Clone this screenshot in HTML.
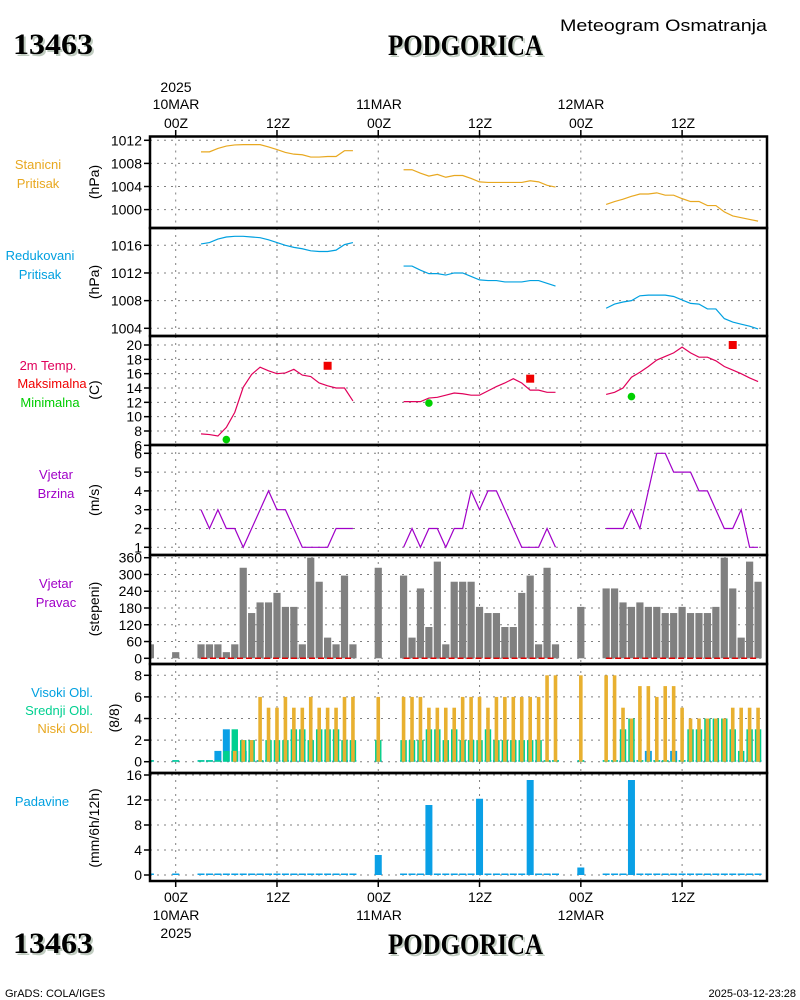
<!DOCTYPE html>
<html><head><meta charset="utf-8">
<style>
html,body{margin:0;padding:0;background:#fff;}
svg{display:block;}
text{font-family:"Liberation Sans",sans-serif;}
.big{font-family:"Liberation Serif",serif;font-weight:bold;font-size:30px;}
</style></head>
<body>
<svg id="chart" width="800" height="1000" viewBox="0 0 800 1000" xmlns="http://www.w3.org/2000/svg">
<g id="static">
<text x="15" y="56" class="big" fill="#c0ccc0" textLength="80" lengthAdjust="spacingAndGlyphs">13463</text>
<text x="13" y="54" class="big" fill="#000" textLength="80" lengthAdjust="spacingAndGlyphs">13463</text>
<text x="390" y="57" class="big" fill="#c0ccc0" textLength="155" lengthAdjust="spacingAndGlyphs">PODGORICA</text>
<text x="388" y="55" class="big" fill="#000" textLength="155" lengthAdjust="spacingAndGlyphs">PODGORICA</text>
<text x="560" y="31" font-size="17" fill="#000" textLength="207" lengthAdjust="spacingAndGlyphs">Meteogram Osmatranja</text>
<text x="15" y="955" class="big" fill="#c0ccc0" textLength="80" lengthAdjust="spacingAndGlyphs">13463</text>
<text x="13" y="953" class="big" fill="#000" textLength="80" lengthAdjust="spacingAndGlyphs">13463</text>
<text x="390" y="956" class="big" fill="#c0ccc0" textLength="155" lengthAdjust="spacingAndGlyphs">PODGORICA</text>
<text x="388" y="954" class="big" fill="#000" textLength="155" lengthAdjust="spacingAndGlyphs">PODGORICA</text>
<text x="5" y="997" font-size="11" fill="#000">GrADS: COLA/IGES</text>
<text x="796" y="997" font-size="11" text-anchor="end" fill="#000">2025-03-12-23:28</text>

<g font-size="13" text-anchor="middle">
<text x="38" y="169" fill="#e8a820">Stanicni</text>
<text x="38" y="188" fill="#e8a820">Pritisak</text>
<text x="40" y="260" fill="#00a0e0">Redukovani</text>
<text x="40" y="279" fill="#00a0e0">Pritisak</text>
<text x="48" y="370" fill="#e0005a">2m Temp.</text>
<text x="52" y="388" fill="#f00000">Maksimalna</text>
<text x="50" y="407" fill="#00cc00">Minimalna</text>
<text x="56" y="479" fill="#a000c8">Vjetar</text>
<text x="56" y="498" fill="#a000c8">Brzina</text>
<text x="56" y="588" fill="#a000c8">Vjetar</text>
<text x="56" y="607" fill="#a000c8">Pravac</text>
<text x="93" y="697" text-anchor="end" fill="#00a0e0">Visoki Obl.</text>
<text x="93" y="715" text-anchor="end" fill="#00d090">Srednji Obl.</text>
<text x="93" y="733" text-anchor="end" fill="#e8a820">Niski Obl.</text>
<text x="42" y="806" fill="#00a0e0">Padavine</text>
</g>
<g font-size="14" text-anchor="middle" fill="#000">
<text transform="translate(99,182) rotate(-90)">(hPa)</text>
<text transform="translate(99,282) rotate(-90)">(hPa)</text>
<text transform="translate(99,390) rotate(-90)">(C)</text>
<text transform="translate(99,500) rotate(-90)">(m/s)</text>
<text transform="translate(99,609) rotate(-90)">(stepeni)</text>
<text transform="translate(119,718) rotate(-90)">(8/8)</text>
<text transform="translate(99,828) rotate(-90)">(mm/6h/12h)</text>
</g>
<g font-size="14" text-anchor="middle" fill="#000">
<text x="176" y="92">2025</text>
<text x="176" y="109">10MAR</text>
<text x="379" y="109">11MAR</text>
<text x="581" y="109">12MAR</text>
<text x="176" y="902">00Z</text>
<text x="278" y="902">12Z</text>
<text x="379" y="902">00Z</text>
<text x="480" y="902">12Z</text>
<text x="581" y="902">00Z</text>
<text x="683" y="902">12Z</text>
<text x="176" y="920">10MAR</text>
<text x="379" y="920">11MAR</text>
<text x="581" y="920">12MAR</text>
<text x="176" y="938">2025</text>
<text x="176" y="128">00Z</text>
<text x="278" y="128">12Z</text>
<text x="379" y="128">00Z</text>
<text x="480" y="128">12Z</text>
<text x="581" y="128">00Z</text>
<text x="683" y="128">12Z</text>
</g>
</g>
<g id="plots"></g>
</svg>
<script>
// ---- data (hour offsets from 10MAR 00Z) ----
const seg1 = [3,4,5,6,7,8,9,10,11,12,13,14,15,16,17,18,19,20,21];
const seg2 = [27,28,29,30,31,32,33,34,35,36,37,38,39,40,41,42,43,44,45];
const seg3 = [51,52,53,54,55,56,57,58,59,60,61,62,63,64,65,66,67,68,69];
const stanicni1 = [1010.0,1010.0,1010.6,1011.0,1011.2,1011.25,1011.25,1011.25,1010.85,1010.4,1009.9,1009.6,1009.5,1009.1,1009.1,1009.2,1009.2,1010.2,1010.2];
const stanicni2 = [1006.9,1006.9,1006.3,1005.8,1006.1,1005.6,1005.9,1005.9,1005.4,1004.8,1004.7,1004.7,1004.7,1004.7,1004.7,1005.0,1004.8,1004.2,1003.9];
const stanicni3 = [1000.9,1001.4,1001.8,1002.3,1002.7,1002.7,1002.9,1002.5,1002.5,1001.9,1001.4,1001.4,1000.7,1000.7,999.6,998.9,998.6,998.3,998.0];
const redukovani1 = [1016.2,1016.4,1016.9,1017.2,1017.3,1017.3,1017.2,1017.1,1016.8,1016.4,1016.0,1015.7,1015.5,1015.2,1015.1,1015.1,1015.3,1016.1,1016.4];
const redukovani2 = [1013.0,1013.0,1012.4,1011.9,1011.9,1011.7,1012.0,1012.0,1011.5,1011.0,1010.9,1010.9,1010.7,1010.7,1010.7,1010.9,1010.9,1010.5,1010.1];
const redukovani3 = [1006.9,1007.5,1007.8,1008.0,1008.7,1008.8,1008.8,1008.8,1008.6,1008.1,1007.6,1007.5,1006.8,1006.8,1005.4,1004.9,1004.6,1004.3,1003.9];
const temp1 = [7.6,7.5,7.3,8.5,10.6,14.1,15.9,16.9,16.4,16.0,16.1,16.6,15.8,15.6,14.7,14.3,14.0,14.0,12.2];
const temp2 = [12.1,12.1,12.1,12.6,12.7,13.0,13.3,13.2,13.0,13.0,13.6,14.2,14.7,15.3,14.7,13.7,13.7,13.4,13.4];
const temp3 = [13.1,13.4,14.0,15.5,16.2,17.0,17.9,18.4,18.9,19.7,18.9,18.3,18.3,17.8,17.0,16.5,16.0,15.4,14.9];
const maxHours = [18,42,66];
const maxTemps = [17.1,15.3,20.0];
const minHours = [6,30,54];
const minTemps = [6.8,11.9,12.8];
const wind1 = [3,2,3,2,2,1,2,3,4,3,3,2,1,1,1,1,2,2,2];
const wind2 = [1,2,1,2,2,1,2,2,4,3,4,4,3,2,1,1,1,2,1];
const wind3 = [2,2,2,3,2,4,6,6,5,5,5,4,4,3,2,2,3,1,1];
const dirHours = [-3,0,3,4,5,6,7,8,9,10,11,12,13,14,15,16,17,18,19,20,21,24,27,28,29,30,31,32,33,34,35,36,37,38,39,40,41,42,43,44,45,48,51,52,53,54,55,56,57,58,59,60,61,62,63,64,65,66,67,68,69];
const dirValues = [50,22,50,50,50,22,50,324,162,200,200,234,184,184,50,360,274,74,50,296,50,324,296,74,250,112,346,50,274,274,274,184,162,162,112,112,234,296,50,324,50,184,250,250,200,184,200,184,184,162,162,184,162,162,162,184,360,250,74,346,274];
const cloudLow  = [0,0,0,0,0,0,1,2,2,6,5,5,6,5,5,6,5,5,5,6,6,6,6,6,6,5,5,5,5,6,6,6,5,6,6,6,6,6,6,8,8,8,8,8,5,4,7,7,6,7,7,5,4,4,4,4,4,5,5,5,5];
const cloudMid  = [0,0,0,0,0,1,3,2,2,0,2,2,2,3,3,2,3,3,3,2,2,2,2,2,2,3,3,2,3,2,2,2,3,2,2,2,2,2,2,0,0,0,0,0,3,4,0,0,0,0,0,0,3,3,4,4,4,3,1,3,3];
const cloudHigh = [0,0,0,0,1,3,1,1,0,0,0,0,0,0,0,0,0,0,0,0,0,0,0,0,0,0,0,0,0,0,0,0,0,0,0,0,0,0,0,0,0,0,0,0,0,0,0,1,0,0,1,0,0,0,0,0,0,0,0,0,0];
const precipHours = [24,30,36,42,48,54];
const precipValues = [3.2,11.2,12.2,15.2,1.2,15.2];
const stanTicks = [1000,1004,1008,1012];
const redTicks = [1004,1008,1012,1016];
const tempTicks = [6,8,10,12,14,16,18,20];
const windTicks = [1,2,3,4,5,6];
const dirTicks = [0,60,120,180,240,300,360];
const cloudTicks = [0,2,4,6,8];
const precipTicks = [0,4,8,12,16];

const NS='http://www.w3.org/2000/svg';
const root=document.getElementById('plots');
const X0=175.7, PXH=8.44, L=150, R=767;
const xh = h => X0 + h*PXH;
function mk(tag, attrs, parent){const e=document.createElementNS(NS,tag);for(const k in attrs)e.setAttribute(k,attrs[k]);(parent||root).appendChild(e);return e;}
function lin(v0,y0,v1,y1){return v=> y0+(v-v0)*(y1-y0)/(v1-v0);}

const panels=[
 {top:136.5,bot:228,ticks:stanTicks,y:lin(1012,140.3,1000,209.6),name:'stanicni'},
 {top:228,bot:336,ticks:redTicks,y:lin(1016,245.3,1004,328.3),name:'redukovani'},
 {top:336,bot:445,ticks:tempTicks,y:lin(20,345,8,431),name:'temp'},
 {top:445,bot:555,ticks:windTicks,y:lin(6,453.3,1,547.3),name:'wind-speed'},
 {top:555,bot:664,ticks:dirTicks,y:lin(0,658.3,360,557.7),name:'wind-dir'},
 {top:664,bot:773,ticks:cloudTicks,y:lin(0,761.7,8,675.3),name:'clouds'},
 {top:773,bot:881,ticks:precipTicks,y:lin(0,875,16,775),name:'precip'}
];
const gridHours=[0,12,24,36,48,60];
panels.forEach(p=>{
  const g=mk('g',{});
  
  
  gridHours.forEach(h=>{
    const l=mk('line',{x1:xh(h),x2:xh(h),y1:p.top,y2:p.bot,stroke:'#808080','stroke-dasharray':'2,5'},g);
    
    
  });
  p.ticks.forEach(v=>{
    const yy=p.y(v);
    const l=mk('line',{x1:L,x2:R,y1:yy,y2:yy,stroke:'#808080','stroke-dasharray':'2,5'},g);
    
    
    const tk=mk('line',{x1:L-6,x2:L,y1:yy,y2:yy,stroke:'#000','stroke-width':1.5},g);
    
    
    const t=mk('text',{x:L-8,y:yy+5,'text-anchor':'end','font-size':14,fill:'#000'},g);
    t.textContent=v;
    
    
  });
  p.g=g;
});
function line(hours,vals,p,color,name,w){
  const pts=hours.map((h,i)=>xh(h)+','+p.y(vals[i])).join(' ');
  const e=mk('polyline',{points:pts,fill:'none',stroke:color,'stroke-width':w||1.2});
  
  
}
const C_OR='#e8a820', C_BL='#00a0e0';
line(seg1,stanicni1,panels[0],C_OR,'stanicni-line-1');
line(seg2,stanicni2,panels[0],C_OR,'stanicni-line-2');
line(seg3,stanicni3,panels[0],C_OR,'stanicni-line-3');
line(seg1,redukovani1,panels[1],C_BL,'redukovani-line-1');
line(seg2,redukovani2,panels[1],C_BL,'redukovani-line-2');
line(seg3,redukovani3,panels[1],C_BL,'redukovani-line-3');
line(seg1,temp1,panels[2],'#e0005a','temp-line-1');
line(seg2,temp2,panels[2],'#e0005a','temp-line-2');
line(seg3,temp3,panels[2],'#e0005a','temp-line-3');
maxHours.forEach((h,i)=>{
  const e=mk('rect',{x:xh(h)-4,y:panels[2].y(maxTemps[i])-4,width:8,height:8,fill:'#f00000'});
  
  
});
minHours.forEach((h,i)=>{
  const e=mk('circle',{cx:xh(h),cy:panels[2].y(minTemps[i]),r:3.8,fill:'#00d000'});
  
  
});
line(seg1,wind1,panels[3],'#a000c8','wind-speed-line-1');
line(seg2,wind2,panels[3],'#a000c8','wind-speed-line-2');
line(seg3,wind3,panels[3],'#a000c8','wind-speed-line-3');
// wind direction bars
const pd=panels[4];
dirHours.forEach((h,i)=>{
  const x=Math.max(L,xh(h)-3.6), x2=xh(h)+3.6, y0=pd.y(0), y1=pd.y(dirValues[i]);
  const e=mk('rect',{x:x,y:Math.min(y0,y1),width:x2-x,height:Math.max(1,Math.abs(y0-y1)),fill:'#808080'});
  
  
});
[[3,21],[27,45],[51,69]].forEach(s=>{
  const e=mk('line',{x1:xh(s[0]),x2:xh(s[1]),y1:pd.y(0),y2:pd.y(0),stroke:'#e00000','stroke-width':1.5,'stroke-dasharray':'6,3'});
  
  
});
// clouds
const pc=panels[5];
function bar(h,v,w,color,p,name){
  const x=Math.max(L+1,xh(h)-w/2), y0=p.y(0), y1=p.y(v);
  const hh=Math.max(1.5,y0-y1);
  const e=mk('rect',{x:x,y:y0-hh,width:xh(h)+w/2-x,height:hh,fill:color});
  
  
}
dirHours.forEach((h,i)=>{
  bar(h,cloudHigh[i],7,'#0aa0e6',pc,'cloud-high-bar');
  bar(h,cloudMid[i],6.4,'#00d090',pc,'cloud-mid-bar');
  if(cloudLow[i]>0) bar(h,cloudLow[i],3.6,'#e8b030',pc,'cloud-low-bar');
});
// precip
const pp=panels[6];
dirHours.forEach(h=>{ bar(h,0,7,'#0aa0e6',pp,'precip-zero'); });
precipHours.forEach((h,i)=>{ bar(h,precipValues[i],7,'#0aa0e6',pp,'precip-bar'); });
// frames and x ticks
panels.forEach(p=>{
  const f=mk('rect',{x:L,y:p.top,width:R-L,height:p.bot-p.top,fill:'none',stroke:'#000','stroke-width':2.5});
  
  
});
gridHours.forEach(h=>{
  const a=mk('line',{x1:xh(h),x2:xh(h),y1:130,y2:136.5,stroke:'#000','stroke-width':1.5});
  
  
  const b=mk('line',{x1:xh(h),x2:xh(h),y1:881,y2:887,stroke:'#000','stroke-width':1.5});
  
  
});
</script>
</body></html>
